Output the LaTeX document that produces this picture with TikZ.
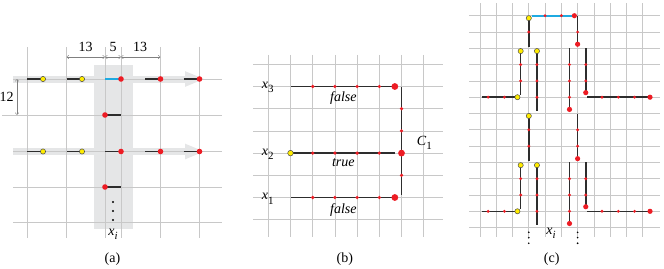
\documentclass[tikz,border=0pt]{standalone}
\usepackage{fontspec}
\setmainfont{Liberation Serif}
\usetikzlibrary{arrows.meta}
\definecolor{wirecol}{RGB}{45,45,45}
\definecolor{redpin}{RGB}{237,28,36}
\definecolor{yellowpin}{RGB}{255,236,0}
\definecolor{bluewire}{RGB}{30,170,225}
\definecolor{gridcol}{RGB}{200,200,200}
\definecolor{bandcol}{RGB}{229,230,231}
\newcommand\subvar[2]{\textit{#1}\raisebox{-4.5pt}{\fontsize{11}{11}\selectfont#2}}

\tikzset{
  gridline/.style={gridcol, line width=0.7pt},
  wire/.style={wirecol, line width=1.6pt},
  bwire/.style={bluewire, line width=1.6pt},
  rpin/.style={fill=redpin},
  ypin/.style={fill=yellowpin, draw=black!70, line width=0.5pt},
  dimline/.style={gray, line width=0.4pt, {Straight Barb[length=2pt,width=3.5pt]}-{Straight Barb[length=2pt,width=3.5pt]}},
  lbl/.style={font=\rmfamily\fontsize{14}{16}\selectfont, inner sep=0pt},
}

\begin{document}
\begin{tikzpicture}[x=1pt, y=-1pt]
    \useasboundingbox (0,0) rectangle (664,268);

        % --- (a) ---
        \fill[bandcol] (94,65) rectangle (133,229);
        \draw[bandcol, line width=7pt, -{Triangle[length=20pt,width=14pt]}] (13,79) -- (205,79);
        \draw[bandcol, line width=7pt, -{Triangle[length=20pt,width=14pt]}] (13,151.5) -- (205,151.5);

        \foreach \x in {27,66.5,105,121,160.5,199.5}
            \draw[gridline] (\x,47) -- (\x,238);
        \foreach \y in {79,151.5,187,222.5}
            \draw[gridline] (13,\y) -- (222,\y);
        \draw[gridline] (2,115) -- (222,115);

        \draw[dimline] (66.5,57) -- (105,57);
        \draw[dimline] (105,57) -- (121,57);
        \draw[dimline] (121,57) -- (160.5,57);
        \draw[dimline] (17,79) -- (17,115);
        \node[lbl] (dimA) at (85.5,46.5) {13};
        \node[lbl] (dimB) at (113,46.5) {5};
        \node[lbl] (dimC) at (140,46.5) {13};
        \node[lbl] (dimD) at (6.5,97) {12};

        \foreach \y in {79,151.5} {
            \draw[wire] (27,\y) -- (43,\y) (66.5,\y) -- (82,\y) (145,\y) -- (160.5,\y) (183.5,\y) -- (199.5,\y);
            \draw[ypin] (43,\y) circle[radius=2.6pt] (82,\y) circle[radius=2.6pt];
        }
        \draw[bwire] (105,79) -- (121,79);
        \draw[wire] (105,151.5) -- (121,151.5);
        \foreach \y in {115,187}
            \draw[wire] (105,\y) -- (121,\y);
        \foreach \p in {(121,79),(160.5,79),(199.5,79),(105,115),(121,151.5),(160.5,151.5),(199.5,151.5),(105,187)}
            \fill[rpin] \p circle[radius=2.8pt];
        \foreach \y in {202,211,220}
            \fill (113,\y) circle[radius=1.1pt];

        \node[lbl] (xiA) at (113,234.5) {\subvar{x}{\textit{i}}};
        \node[lbl] (capA) at (112.5,259) {(a)};

        % --- (b) ---
        \begin{scope}[xshift=268.3pt, yshift=-64.3pt, x=22.2pt, y=-22.2pt]
            \foreach \j in {0,...,7}
                \draw[gridline] (-0.68,\j) -- (7.85,\j);
            \foreach \i in {0,...,7}
                \draw[gridline] (\i,-0.42) -- (\i,7.76);

            \draw[wire] (1,1) -- (5.7,1);
            \draw[wire] (1,4) -- (5.7,4);
            \draw[wire] (1,6) -- (5.7,6);
            \draw[wire] (6,1) -- (6,5.88);
            \foreach \j in {1,4,6}
                \foreach \i in {2,...,5}
                    \fill[rpin] (\i,\j) circle[radius=1.8pt];
            \foreach \j in {2,3,5}
                \fill[rpin] (6,\j) circle[radius=1.8pt];
            \foreach \p in {(5.7,1),(5.7,6),(6,4)}
                \fill[rpin] \p circle[radius=3.4pt];
            \draw[ypin] (1,4) circle[radius=2.8pt];

            \node[lbl, anchor=base west] (xThree) at (-0.3,1.09) {\subvar{x}{3}};
            \node[lbl, anchor=base west] (xTwo) at (-0.3,4.09) {\subvar{x}{2}};
            \node[lbl, anchor=base west] (xOne) at (-0.3,6.09) {\subvar{x}{1}};
            \node[lbl] (fThree) at (3.38,1.5) {\textit{false}};
            \node[lbl] (tTwo) at (3.38,4.41) {\textit{true}};
            \node[lbl] (fOne) at (3.38,6.56) {\textit{false}};
            \node[lbl, anchor=base west] (clause) at (6.68,3.64) {\subvar{C}{1}};
            \node[lbl] (capB) at (3.45,8.77) {(b)};
        \end{scope}

        % --- (c) ---
        \begin{scope}[xshift=480pt, yshift=-15.7pt, x=16.27pt, y=-16.3pt]
            \foreach \j in {0,...,13}
                \draw[gridline] (-0.66,\j) -- (11.06,\j);
            \foreach \i in {0,...,10}
                \draw[gridline] (\i,-0.76) -- (\i,13.56);

            % top link
            \draw[bwire] (3.18,0) -- (5.8,0);
            \draw[wire] (3,0.15) -- (3,1.9);
            \draw[wire] (6,0) -- (6,1.75);
            \foreach \p in {(4,0),(5,0),(3,1),(6,1)}
                \fill[rpin] \p circle[radius=1.6pt];
            \fill[rpin] (5.8,0) circle[radius=2.6pt] (6,1.75) circle[radius=2.6pt];
            \draw[ypin] (3,0.15) circle[radius=2.6pt];

            % middle link
            \draw[wire] (3,6.15) -- (3,8.9);
            \draw[wire] (6,6) -- (6,8.77);
            \foreach \p in {(3,7),(3,8),(6,7),(6,8)}
                \fill[rpin] \p circle[radius=1.6pt];
            \fill[rpin] (6,8.77) circle[radius=2.6pt];
            \draw[ypin] (3,6.15) circle[radius=2.6pt];

            % blocks
            \foreach \b in {2,9} {
                \draw[wire] (2.5,{\b+0.17}) -- (2.5,{\b+2.85});
                \draw[wire] (0.1,{\b+3}) -- (2.3,{\b+3});
                \draw[wire] (3.5,{\b+0.17}) -- (3.5,{\b+3.85});
                \draw[wire] (5.5,\b) -- (5.5,{\b+3.75});
                \draw[wire] (6.5,\b) -- (6.5,{\b+2.72});
                \draw[wire] (6.6,{\b+3}) -- (10.45,{\b+3});
                \foreach \p in {(2.5,{\b+1}),(2.5,{\b+2}),(0.5,{\b+3}),(1.5,{\b+3}),
                                (3.5,{\b+1}),(3.5,{\b+2}),(3.5,{\b+3}),
                                (5.5,{\b+1}),(5.5,{\b+2}),(5.5,{\b+3}),
                                (6.5,{\b+1}),(6.5,{\b+2}),
                                (7.5,{\b+3}),(8.5,{\b+3}),(9.5,{\b+3})}
                    \fill[rpin] \p circle[radius=1.6pt];
                \fill[rpin] (5.5,{\b+3.75}) circle[radius=2.6pt] (6.5,{\b+2.72}) circle[radius=2.6pt] (10.45,{\b+3}) circle[radius=2.6pt];
                \draw[ypin] (2.5,{\b+0.17}) circle[radius=2.6pt] (3.5,{\b+0.17}) circle[radius=2.6pt] (2.3,{\b+3}) circle[radius=2.6pt];
            }

            \foreach \i in {3,6}
                \foreach \j in {13.29,13.62,13.96}
                    \fill (\i,\j) circle[radius=0.9pt];
            \node[lbl] (xiC) at (4.37,13.36) {\subvar{x}{\textit{i}}};
            \node[lbl] (capC) at (4.41,14.93) {(c)};
        \end{scope}
    \end{tikzpicture}
\end{document}
